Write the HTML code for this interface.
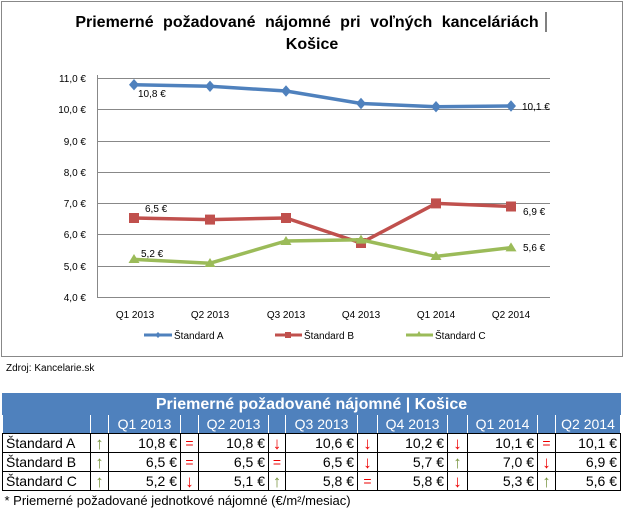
<!DOCTYPE html>
<html><head><meta charset="utf-8"><style>
body{margin:0;width:625px;height:514px;background:#fff;font-family:"Liberation Sans",Arial,sans-serif;overflow:hidden;position:relative}
table{position:absolute;left:2px;top:393px;border-collapse:collapse;font-size:14px;table-layout:fixed}
td{border:1px solid #000;height:18px;padding:0 3px;white-space:nowrap;line-height:17px}
.t{background:#4f81bd;color:#fff;font-weight:bold;text-align:center;font-size:16px;height:20px;border-color:#4f81bd}
.h td{background:#4f81bd;color:#fff;text-align:center;border-color:#fff;border-top:none;border-bottom-color:#000}
.v{text-align:right}
.u{color:#76923c;text-align:center;font-weight:bold;font-size:17px;padding:0}
.d{color:#e00;text-align:center;font-weight:bold;font-size:17px;padding:0}
.e{color:#e00;text-align:center;padding:0}
</style></head><body>
<svg width="625" height="390" style="position:absolute;left:0;top:0" font-family="Liberation Sans, Arial, sans-serif">
<rect x="1.5" y="1.5" width="621" height="355" fill="#fff" stroke="#888"/>
<text x="307" y="27" font-size="16" font-weight="bold" text-anchor="middle" word-spacing="5">Priemerné  požadované  nájomné  pri voľných kanceláriách</text>
<line x1="546" y1="12" x2="546" y2="32" stroke="#000"/>
<text x="312" y="49" font-size="16" font-weight="bold" text-anchor="middle">Košice</text>
<g stroke="#888" stroke-width="1">
<line x1="97" y1="78.5" x2="550" y2="78.5"/><line x1="97" y1="109.5" x2="550" y2="109.5"/><line x1="97" y1="141.5" x2="550" y2="141.5"/><line x1="97" y1="172.5" x2="550" y2="172.5"/><line x1="97" y1="203.5" x2="550" y2="203.5"/><line x1="97" y1="234.5" x2="550" y2="234.5"/><line x1="97" y1="266.5" x2="550" y2="266.5"/><line x1="97" y1="297.5" x2="550" y2="297.5"/>
<line x1="97.5" y1="75" x2="97.5" y2="297"/>
</g>
<g font-size="10" text-anchor="end">
<text x="86" y="82">11,0 €</text><text x="86" y="113">10,0 €</text><text x="86" y="145">9,0 €</text><text x="86" y="176">8,0 €</text><text x="86" y="207">7,0 €</text><text x="86" y="238">6,0 €</text><text x="86" y="270">5,0 €</text><text x="86" y="301">4,0 €</text>
</g>
<g font-size="10" text-anchor="middle">
<text x="135" y="318">Q1 2013</text><text x="210" y="318">Q2 2013</text><text x="286" y="318">Q3 2013</text><text x="361" y="318">Q4 2013</text><text x="436" y="318">Q1 2014</text><text x="511" y="318">Q2 2014</text>
</g>
<polyline points="134,84.7 210,86.3 286,91 361,103.5 436,106.7 511,106" fill="none" stroke="#4f81bd" stroke-width="3.5"/>
<g fill="#4f81bd"><path d="M134,79 l5,5.7 -5,5.7 -5,-5.7z"/><path d="M210,80.6 l5,5.7 -5,5.7 -5,-5.7z"/><path d="M286,85.3 l5,5.7 -5,5.7 -5,-5.7z"/><path d="M361,97.8 l5,5.7 -5,5.7 -5,-5.7z"/><path d="M436,101 l5,5.7 -5,5.7 -5,-5.7z"/><path d="M511,100.3 l5,5.7 -5,5.7 -5,-5.7z"/></g>
<polyline points="134,218 210,219.6 286,218 361,243 436,203.4 511,206.5" fill="none" stroke="#c0504d" stroke-width="3.5"/>
<g fill="#c0504d"><rect x="129" y="213" width="10" height="10"/><rect x="205" y="214.6" width="10" height="10"/><rect x="281" y="213" width="10" height="10"/><rect x="356" y="238" width="10" height="10"/><rect x="431" y="198.4" width="10" height="10"/><rect x="506" y="201.5" width="10" height="10"/></g>
<polyline points="134,259.4 210,263.2 286,241 361,239.8 436,256.4 511,247.6" fill="none" stroke="#9bbb59" stroke-width="3.5"/>
<g fill="#9bbb59"><path d="M134,254 l5.5,9 h-11z"/><path d="M210,258 l5.5,9 h-11z"/><path d="M286,236 l5.5,9 h-11z"/><path d="M361,234.6 l5.5,9 h-11z"/><path d="M436,251 l5.5,9 h-11z"/><path d="M511,242.4 l5.5,9 h-11z"/></g>
<g font-size="10">
<text x="138" y="97">10,8 €</text><text x="522" y="110">10,1 €</text>
<text x="145" y="212">6,5 €</text><text x="523" y="215">6,9 €</text>
<text x="141" y="257">5,2 €</text><text x="523" y="251">5,6 €</text>
</g>
<line x1="144" y1="335" x2="172" y2="335" stroke="#4f81bd" stroke-width="3"/><path d="M158,332 l3,3 -3,3 -3,-3z" fill="#4f81bd"/>
<text x="174" y="339" font-size="10">Štandard A</text>
<line x1="275" y1="335" x2="302" y2="335" stroke="#c0504d" stroke-width="3"/><rect x="285" y="332" width="6" height="6" fill="#c0504d"/>
<text x="304" y="339" font-size="10">Štandard B</text>
<line x1="406" y1="335" x2="433" y2="335" stroke="#9bbb59" stroke-width="3"/><path d="M419,331 l3,5 h-6z" fill="#9bbb59"/>
<text x="435" y="339" font-size="10">Štandard C</text>
<text x="6" y="371" font-size="10">Zdroj: Kancelarie.sk</text>
</svg>
<table>
<colgroup><col style="width:88px"><col style="width:18px"><col style="width:72px"><col style="width:18px"><col style="width:70px"><col style="width:17px"><col style="width:72px"><col style="width:20px"><col style="width:70px"><col style="width:20px"><col style="width:70px"><col style="width:18px"><col style="width:65px"></colgroup>
<tr><td class="t" colspan="13">Priemerné požadované nájomné | Košice</td></tr>
<tr class="h"><td></td><td></td><td>Q1 2013</td><td></td><td>Q2 2013</td><td></td><td>Q3 2013</td><td></td><td>Q4 2013</td><td></td><td>Q1 2014</td><td></td><td>Q2 2014</td></tr>
<tr><td>Štandard A</td><td class="u">↑</td><td class="v">10,8 €</td><td class="e">=</td><td class="v">10,8 €</td><td class="d">↓</td><td class="v">10,6 €</td><td class="d">↓</td><td class="v">10,2 €</td><td class="d">↓</td><td class="v">10,1 €</td><td class="e">=</td><td class="v">10,1 €</td></tr>
<tr><td>Štandard B</td><td class="u">↑</td><td class="v">6,5 €</td><td class="e">=</td><td class="v">6,5 €</td><td class="e">=</td><td class="v">6,5 €</td><td class="d">↓</td><td class="v">5,7 €</td><td class="u">↑</td><td class="v">7,0 €</td><td class="d">↓</td><td class="v">6,9 €</td></tr>
<tr><td>Štandard C</td><td class="u">↑</td><td class="v">5,2 €</td><td class="d">↓</td><td class="v">5,1 €</td><td class="u">↑</td><td class="v">5,8 €</td><td class="e">=</td><td class="v">5,8 €</td><td class="d">↓</td><td class="v">5,3 €</td><td class="u">↑</td><td class="v">5,6 €</td></tr>
<tr><td colspan="13" style="border:none;padding:0 2px;font-size:13px">* Priemerné požadované jednotkové nájomné (€/m²/mesiac)</td></tr>
</table>
</body></html>
